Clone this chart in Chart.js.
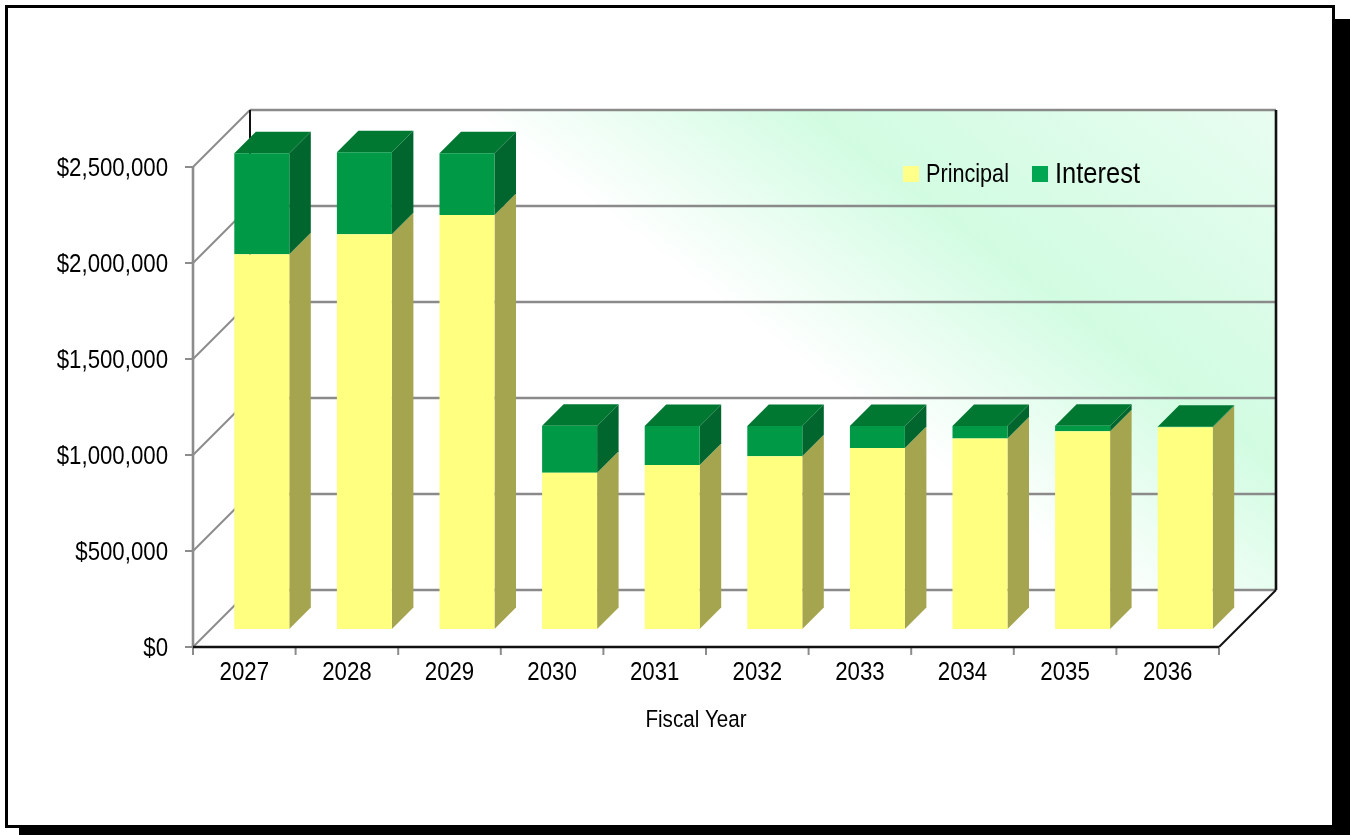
<!DOCTYPE html>
<html><head><meta charset="utf-8">
<style>html,body{margin:0;padding:0;background:#fff;overflow:hidden}#box{position:absolute;left:0;top:0;width:1350px;height:835px}</style>
<script src="https://cdn.jsdelivr.net/npm/chart.js@4/dist/chart.umd.min.js"></script>
</head><body><div id="box"><canvas id="c" width="1350" height="835"></canvas></div>
<script>
const categories=['2027','2028','2029','2030','2031','2032','2033','2034','2035','2036'];
const principal=[1951600,2055700,2156200,814000,854200,899500,942700,992200,1029700,1050500];
const interest=[526000,427000,321400,244800,203100,157800,114600,65100,29200,2600];
const yTicks=[0,500000,1000000,1500000,2000000,2500000];
const seriesNames=['Principal','Interest'];
const xTitle='Fiscal Year';
const FONT='"Liberation Sans",Arial,sans-serif';
const WALL=57, SHIFT_X=17.5, SHIFT_Y=18, DEPTH=21.5;
const shades=[{face:'#FFFF80',side:'#A5A550',swatch:'#FFFF8A'},{face:'#009A46',side:'#00662E',top:'#007832',swatch:'#00A651'}];
function line(ctx,x1,y1,x2,y2,c,w){ctx.strokeStyle=c;ctx.lineWidth=w;ctx.beginPath();ctx.moveTo(x1,y1);ctx.lineTo(x2,y2);ctx.stroke();}
function poly(ctx,pts,c){ctx.fillStyle=c;ctx.beginPath();pts.forEach((p,i)=>i?ctx.lineTo(p[0],p[1]):ctx.moveTo(p[0],p[1]));ctx.closePath();ctx.fill();}
function text(ctx,s,x,y,size,sx,align){ctx.save();ctx.translate(x,y);ctx.scale(sx,1);ctx.font=size+'px '+FONT;ctx.fillStyle='#000';ctx.textAlign=align;ctx.textBaseline='middle';ctx.fillText(s,0,0);ctx.restore();}
const scene={id:'scene',
 beforeDraw(ch){const c=ch.ctx,a=ch.chartArea,y=ch.scales.y;
  c.save();
  c.fillStyle='#000';c.fillRect(19,19,1331,816);
  c.fillRect(5,5,1330,823);
  c.fillStyle='#fff';c.fillRect(8,8,1324,817);
  const L=a.left+WALL,R=a.right+WALL,T=a.top-WALL,B=a.bottom-WALL;
  const g=c.createLinearGradient(114,-152,407,-542);
  g.addColorStop(0,'#ffffff');g.addColorStop(.42,'#d2fce2');g.addColorStop(.55,'#d6fce5');g.addColorStop(1,'#e8fdf0');
  c.fillStyle=g;c.fillRect(L,T,R-L,B-T);
  yTicks.forEach(v=>{const py=y.getPixelForValue(v);
   line(c,a.left-8,py,a.left,py,'#8c8c8c',2);
   line(c,a.left,py,L,py-WALL,'#8c8c8c',2);
   line(c,L,py-WALL,R,py-WALL,'#8a8a8a',2.6);});
  line(c,a.left,a.top,a.left,a.bottom,'#8c8c8c',2.6);
  line(c,L,T,L,B,'#111',2);
  line(c,R,T,R,B,'#111',2.6);
  line(c,a.right,a.bottom,R,B,'#111',2);
  const step=(a.right-a.left)/categories.length;
  for(let i=0;i<=categories.length;i++){const px=a.left+i*step;line(c,px,a.bottom,px,a.bottom+8,'#8c8c8c',2);}
  line(c,a.left,a.bottom,a.right,a.bottom,'#111',2.6);
  c.restore();
 },
 beforeDatasetsDraw(ch){const c=ch.ctx;
  c.save();c.translate(SHIFT_X,-SHIFT_Y);
  const m0=ch.getDatasetMeta(0).data,m1=ch.getDatasetMeta(1).data;
  const d=DEPTH;
  m0.forEach((b0,i)=>{const b1=m1[i];
   const r=b0.x+b0.width/2,l=b0.x-b0.width/2,y0=b0.base,y1=b0.y,y2=b1.y;
   poly(c,[[r,y0],[r+d,y0-d],[r+d,y1-d],[r,y1]],shades[0].side);
   poly(c,[[r,y1],[r+d,y1-d],[r+d,y2-d],[r,y2]],shades[1].side);
   poly(c,[[l,y2],[l+d,y2-d],[r+d,y2-d],[r,y2]],shades[1].top);
  });
 },
 afterDatasetsDraw(ch){ch.ctx.restore();},
 afterDraw(ch){const c=ch.ctx,sx=ch.scales.x,sy=ch.scales.y;
  sy.ticks.forEach(t=>text(c,t.label,168,sy.getPixelForValue(t.value)+2,26,.855,'right'));
  sx.ticks.forEach((t,i)=>text(c,categories[i],sx.getPixelForTick(i),673,26,.855,'center'));
  text(c,xTitle,696,720.5,24.5,.84,'center');
  c.fillStyle=shades[0].swatch;c.fillRect(903,166,16,16);
  c.fillStyle=shades[1].swatch;c.fillRect(1032,166,16,16);
  text(c,seriesNames[0],926,175,25,.865,'left');
  text(c,seriesNames[1],1055,175,29,.88,'left');
 }
};
new Chart(document.getElementById('c'),{type:'bar',plugins:[scene],
 data:{labels:categories,datasets:[
  {label:seriesNames[0],data:principal,backgroundColor:shades[0].face,stack:'s'},
  {label:seriesNames[1],data:interest,backgroundColor:shades[1].face,stack:'s'}]},
 options:{responsive:false,animation:false,
  layout:{padding:{top:167,right:131,left:0,bottom:0}},
  datasets:{bar:{categoryPercentage:1,barPercentage:.536}},
  scales:{
   x:{stacked:true,position:'bottom',grid:{display:false},border:{display:false},
      ticks:{display:false,autoSkip:false},
      afterFit(s){s.height=188;}},
   y:{stacked:true,min:0,max:2500000,afterBuildTicks(s){s.ticks=yTicks.map(v=>({value:v}));},
      grid:{display:false},border:{display:false},
      ticks:{display:false,callback:v=>'$'+Number(v).toLocaleString('en-US')},
      afterFit(s){s.width=193;}}
  },
  plugins:{tooltip:{enabled:false},title:{display:false},legend:{display:false}}
 }
});
</script></body></html>
